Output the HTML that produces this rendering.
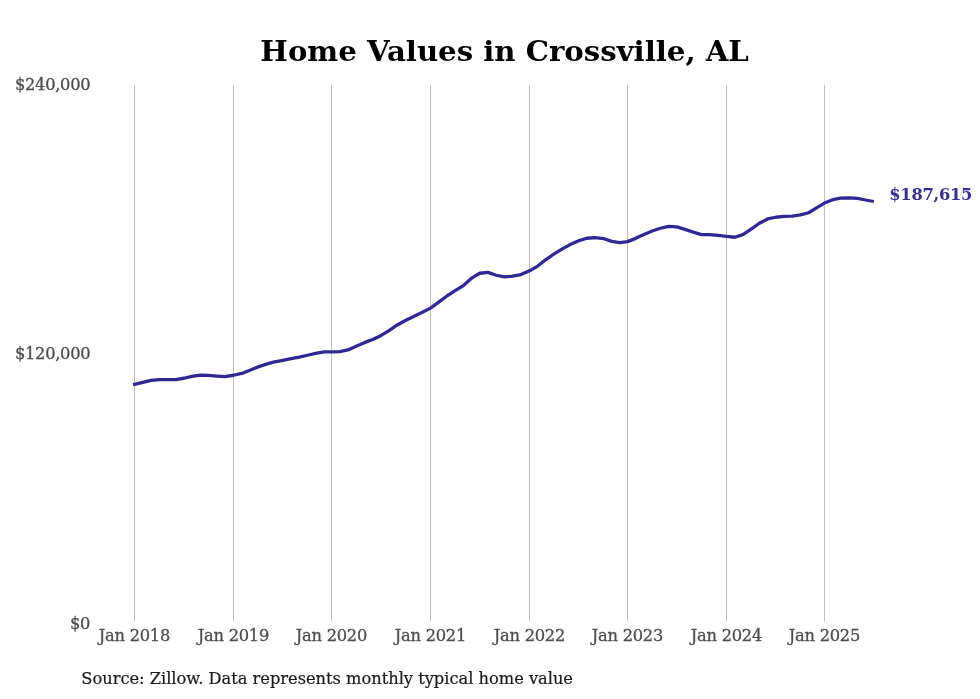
<!DOCTYPE html>
<html lang="en"><head><meta charset="utf-8"><title>Home Values in Crossville, AL</title>
<style>
html,body{margin:0;padding:0;background:#fff}
body{width:980px;height:699px;overflow:hidden;font-family:"DejaVu Serif","Liberation Serif",serif}
svg{display:block}
text{font-family:"DejaVu Serif","Liberation Serif",serif}
</style></head><body>
<svg width="980" height="699" viewBox="0 0 980 699">
<rect width="980" height="699" fill="#fff"/>
<text x="504.6" y="0" transform="translate(0,60.5) scale(1,0.966)" text-anchor="middle" font-size="29.2" font-weight="bold" fill="#000">Home Values in Crossville, AL</text>
<g stroke="#bebebe" stroke-width="1" fill="none"><line x1="134.5" y1="84.7" x2="134.5" y2="621.4"/><line x1="233.5" y1="84.7" x2="233.5" y2="621.4"/><line x1="331.5" y1="84.7" x2="331.5" y2="621.4"/><line x1="430.5" y1="84.7" x2="430.5" y2="621.4"/><line x1="529.5" y1="84.7" x2="529.5" y2="621.4"/><line x1="627.5" y1="84.7" x2="627.5" y2="621.4"/><line x1="726.5" y1="84.7" x2="726.5" y2="621.4"/><line x1="824.5" y1="84.7" x2="824.5" y2="621.4"/></g>
<g font-size="16.3" fill="#4d4d4d" stroke="#4d4d4d" stroke-width="0.3" text-anchor="end" letter-spacing="-0.3">
<text x="90.3" y="90.1">$240,000</text>
<text x="90.3" y="358.6">$120,000</text>
<text x="90.1" y="628.5">$0</text>
</g>
<g font-size="16.3" fill="#4d4d4d" stroke="#4d4d4d" stroke-width="0.3" text-anchor="end" letter-spacing="-0.27"><text x="170.0" y="640.6">Jan 2018</text><text x="269.0" y="640.6">Jan 2019</text><text x="367.0" y="640.6">Jan 2020</text><text x="466.0" y="640.6">Jan 2021</text><text x="565.0" y="640.6">Jan 2022</text><text x="663.0" y="640.6">Jan 2023</text><text x="762.0" y="640.6">Jan 2024</text><text x="860.0" y="640.6">Jan 2025</text></g>
<polyline points="133.10,384.70 134.50,384.35 142.72,382.35 150.93,380.45 159.15,379.65 167.36,379.55 175.58,379.65 183.80,378.25 192.01,376.35 200.23,375.15 208.44,375.45 216.66,376.05 224.88,376.65 233.50,375.25 241.72,373.45 249.93,370.25 258.15,366.90 266.36,364.10 274.58,361.95 282.80,360.35 291.01,358.60 299.23,357.05 307.44,355.25 315.66,353.45 323.88,351.85 331.50,351.95 339.72,351.65 347.93,349.95 356.15,346.25 364.36,342.65 372.58,339.55 380.80,335.65 389.01,330.55 397.23,324.95 405.44,320.45 413.66,316.55 421.88,312.55 430.50,308.10 438.72,302.15 446.93,296.00 455.15,290.70 463.36,285.60 471.58,278.20 479.80,273.25 488.01,272.35 496.23,275.25 504.44,276.95 512.66,276.05 520.88,274.55 529.50,270.85 537.72,266.05 545.93,259.55 554.15,253.95 562.36,248.85 570.58,244.35 578.80,240.65 587.01,238.25 595.23,237.65 603.44,238.55 611.66,241.35 619.88,242.65 627.50,241.65 635.72,238.35 643.93,234.45 652.15,231.05 660.36,228.25 668.58,226.35 676.80,226.85 685.01,229.35 693.23,232.15 701.44,234.65 709.66,234.65 717.88,235.35 726.50,236.30 734.72,237.25 742.93,234.65 751.15,229.05 759.36,223.25 767.58,218.95 775.80,217.25 784.01,216.45 792.23,216.15 800.44,214.95 808.66,212.75 816.88,207.65 824.50,203.10 832.72,199.65 840.93,198.15 849.15,197.85 857.36,198.35 865.58,200.00 873.80,201.50" fill="none" stroke="#2f2894" stroke-width="3.3" stroke-linejoin="round" stroke-linecap="butt"/>
<text x="889.3" y="200" font-size="16.3" font-weight="bold" fill="#372f8c" letter-spacing="-0.26">$187,615</text>
<text x="81.3" y="683.7" font-size="16.3" fill="#1a1a1a" stroke="#1a1a1a" stroke-width="0.2" letter-spacing="-0.03">Source: Zillow. Data represents monthly typical home value</text>
</svg>
</body></html>
